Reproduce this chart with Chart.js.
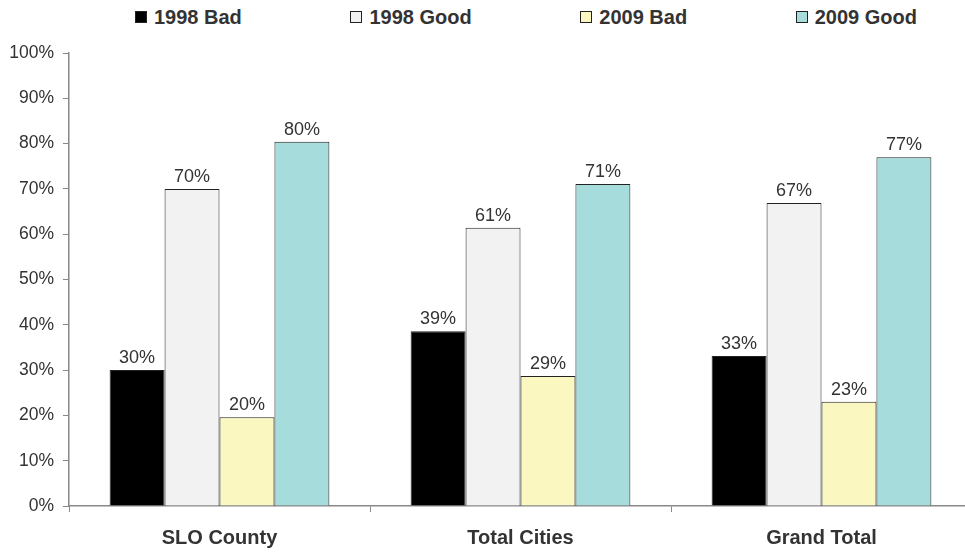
<!DOCTYPE html>
<html>
<head>
<meta charset="utf-8">
<script src="https://cdn.jsdelivr.net/npm/chart.js@4.4.1/dist/chart.umd.min.js"></script>
<style>
  html, body { margin: 0; padding: 0; background: #fff; overflow: hidden; }
  body { width: 965px; height: 552px; position: relative; font-family: "Liberation Sans", Arial, sans-serif; }
  #legend {
    position: absolute; left: 135px; width: 782px; top: 5px; height: 24px;
    display: flex; justify-content: space-between;
    font-weight: bold; font-size: 20px; line-height: 24px; color: #333;
  }
  #legend .item { display: flex; align-items: center; white-space: nowrap; }
  #legend .box { width: 10px; height: 10px; border: 1px solid #222; margin-right: 7px; }
  #wrap { position: absolute; left: 0; top: 0; width: 972px; height: 552px; }
</style>
</head>
<body>
<div id="legend"></div>
<div id="wrap"><canvas id="chart"></canvas></div>
<script>
const categories = ["SLO County", "Total Cities", "Grand Total"];
const seriesNames = ["1998 Bad", "1998 Good", "2009 Bad", "2009 Good"];
const bad1998  = [30.0, 38.6, 33.1];
const good1998 = [70.0, 61.4, 66.9];
const bad2009  = [19.6, 28.7, 23.0];
const good2009 = [80.4, 71.1, 77.0];
const yTicks = [0, 10, 20, 30, 40, 50, 60, 70, 80, 90, 100];
const colors = ["#000000", "#f2f2f2", "#faf7c1", "#a6dcdc"];

const seriesData = [bad1998, good1998, bad2009, good2009];

// html legend, spread across like the original
const legendEl = document.getElementById("legend");
seriesNames.forEach((name, i) => {
  const item = document.createElement("div");
  item.className = "item";
  const box = document.createElement("span");
  box.className = "box";
  box.style.background = colors[i];
  item.appendChild(box);
  item.appendChild(document.createTextNode(name));
  legendEl.appendChild(item);
});

// value labels above each bar
const barLabels = {
  id: "barLabels",
  afterDatasetsDraw(chart) {
    const { ctx } = chart;
    ctx.save();
    ctx.font = "18px 'Liberation Sans', Arial, sans-serif";
    ctx.fillStyle = "#333";
    ctx.textAlign = "center";
    ctx.textBaseline = "alphabetic";
    chart.data.datasets.forEach((ds, di) => {
      const meta = chart.getDatasetMeta(di);
      meta.data.forEach((bar, i) => {
        ctx.fillText(Math.round(ds.data[i]) + "%", bar.x, bar.y - 7);
      });
    });
    ctx.restore();
  }
};

new Chart(document.getElementById("chart").getContext("2d"), {
  type: "bar",
  data: {
    labels: categories,
    datasets: seriesNames.map((name, i) => ({
      label: name,
      data: seriesData[i],
      backgroundColor: colors[i],
      borderColor: "#222",
      borderWidth: 1,
      borderSkipped: "bottom",
      categoryPercentage: 0.73,
      barPercentage: 1.0
    }))
  },
  options: {
    responsive: true,
    maintainAspectRatio: false,
    animation: false,
    layout: { padding: { top: 53, left: 0, right: 0, bottom: 0 } },
    plugins: {
      legend: { display: false },
      tooltip: { enabled: false }
    },
    scales: {
      x: {
        grid: { offset: true, drawOnChartArea: false, drawTicks: true, tickLength: 6, color: "#888" },
        border: { color: "#888", width: 1.5 },
        ticks: {
          color: "#333",
          padding: 14,
          font: { family: "'Liberation Sans', Arial, sans-serif", size: 20, weight: "bold" }
        },
        afterFit: s => { s.height = 46; }
      },
      y: {
        min: 0,
        max: 100,
        afterBuildTicks: s => { s.ticks = yTicks.map(v => ({ value: v })); },
        grid: { drawOnChartArea: false, drawTicks: true, tickLength: 6, color: "#888" },
        border: { color: "#888", width: 1.5 },
        ticks: {
          color: "#333",
          padding: 9,
          callback: v => v + "%",
          font: { family: "'Liberation Sans', Arial, sans-serif", size: 17.5 }
        },
        afterFit: s => { s.width = 69; }
      }
    }
  },
  plugins: [barLabels]
});
</script>
</body>
</html>
